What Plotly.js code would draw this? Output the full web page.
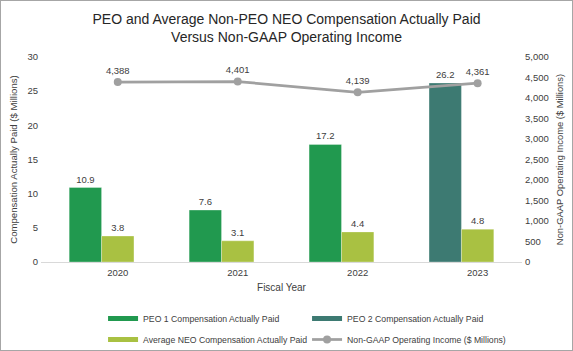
<!DOCTYPE html>
<html>
<head>
<meta charset="utf-8">
<script src="https://cdn.plot.ly/plotly-3.0.1.min.js"></script>
<style>
  html, body { margin: 0; padding: 0; background: #fff; }
  #wrap { position: relative; width: 573px; height: 351px; }
  #chart { width: 573px; height: 351px; }
  #frame { position: absolute; left: 0; top: 0; width: 571px; height: 349px; border: 1px solid #a6a6a6; pointer-events: none; }
</style>
</head>
<body>
<div id="wrap"><div id="chart"></div><div id="frame"></div></div>
<script>
const years = ['2020', '2021', '2022', '2023'];
const peo1Years = ['2020', '2021', '2022'];
const peo1Values = [10.9, 7.6, 17.2];
const peo2Years = ['2023'];
const peo2Values = [26.2];
const avgNeoValues = [3.8, 3.1, 4.4, 4.8];
const opIncomeValues = [4388, 4401, 4139, 4361];

const cPeo1 = '#21994f';
const cPeo2 = '#3d7a72';
const cAvg = '#a9c142';
const cLine = '#a0a0a0';
const txt = '#404040';
const fontFam = 'Liberation Sans, Arial, sans-serif';

const barW = 0.27;
const barLine = { color: 'rgba(255,255,255,0.6)', width: 0.5 };
const lblFont = { size: 9.5, color: txt };

const traces = [
  {
    type: 'bar', name: 'PEO 1 Compensation Actually Paid',
    x: peo1Years, y: peo1Values, width: barW, offset: -0.405,
    marker: { color: cPeo1, line: barLine },
    text: peo1Values.map(v => v.toFixed(1)), textposition: 'outside',
    textfont: lblFont, cliponaxis: false, showlegend: false
  },
  {
    type: 'bar', name: 'PEO 2 Compensation Actually Paid',
    x: peo2Years, y: peo2Values, width: barW, offset: -0.405,
    marker: { color: cPeo2, line: barLine },
    text: peo2Values.map(v => v.toFixed(1)), textposition: 'outside',
    textfont: lblFont, cliponaxis: false, showlegend: false
  },
  {
    type: 'bar', name: 'Average NEO Compensation Actually Paid',
    x: years, y: avgNeoValues, width: barW, offset: -0.135,
    marker: { color: cAvg, line: barLine },
    text: avgNeoValues.map(v => v.toFixed(1)), textposition: 'outside',
    textfont: lblFont, cliponaxis: false, showlegend: false
  },
  {
    type: 'scatter', mode: 'lines+markers+text', name: 'Non-GAAP Operating Income ($ Millions)',
    x: years, y: opIncomeValues, yaxis: 'y2',
    line: { color: cLine, width: 2.75 }, marker: { color: cLine, size: 8 },
    text: opIncomeValues.map(v => v.toLocaleString('en-US')), textposition: 'top center',
    textfont: lblFont, cliponaxis: false, showlegend: false
  },
  // legend entries
  { type: 'scatter', mode: 'lines', name: 'PEO 1 Compensation Actually Paid', x: [null], y: [null], line: { color: cPeo1, width: 5 }, hoverinfo: 'skip', legend: 'legend' },
  { type: 'scatter', mode: 'lines', name: 'PEO 2 Compensation Actually Paid', x: [null], y: [null], line: { color: cPeo2, width: 5 }, hoverinfo: 'skip', legend: 'legend' },
  { type: 'scatter', mode: 'lines', name: 'Average NEO Compensation Actually Paid', x: [null], y: [null], line: { color: cAvg, width: 5 }, hoverinfo: 'skip', legend: 'legend2' },
  { type: 'scatter', mode: 'lines+markers', name: 'Non-GAAP Operating Income ($ Millions)', x: [null], y: [null], line: { color: cLine, width: 2.75 }, marker: { color: cLine, size: 8 }, hoverinfo: 'skip', legend: 'legend2' }
];

const legendBase = {
  orientation: 'h', x: 0.129, xref: 'paper', xanchor: 'left', yref: 'container', yanchor: 'top',
  entrywidth: 159, entrywidthmode: 'pixels',
  font: { size: 8.7, color: txt }, traceorder: 'normal', bgcolor: 'rgba(0,0,0,0)'
};

const layout = {
  width: 573, height: 351,
  margin: { l: 41, r: 51, t: 57, b: 89 },
  paper_bgcolor: '#ffffff', plot_bgcolor: '#ffffff',
  font: { family: fontFam, color: txt, size: 10 },
  barmode: 'overlay',
  title: {
    text: 'PEO and Average Non-PEO NEO Compensation Actually Paid<br>Versus Non-GAAP Operating Income',
    x: 0.5, xanchor: 'center', y: 0.932, yanchor: 'top',
    font: { size: 14, color: '#262626', family: fontFam }
  },
  xaxis: {
    type: 'category', range: [-0.64, 3.37],
    showgrid: false, zeroline: false, showline: true, linecolor: '#d9d9d9', linewidth: 1,
    ticks: '', tickfont: { size: 9.5, color: txt }, ticklabelstandoff: 2,
    title: { text: 'Fiscal Year', font: { size: 10, color: txt }, standoff: 6 },
    fixedrange: true
  },
  yaxis: {
    range: [0, 30], dtick: 5, showgrid: false, zeroline: false, showline: false,
    ticks: '', tickfont: { size: 9.5, color: txt }, ticklabelstandoff: 2,
    title: { text: 'Compensation Actually Paid ($ Millions)', font: { size: 9.6, color: txt }, standoff: 8 },
    fixedrange: true
  },
  yaxis2: {
    overlaying: 'y', side: 'right', range: [0, 5000], dtick: 500,
    tickformat: ',d', showgrid: false, zeroline: false, showline: false,
    ticks: '', tickfont: { size: 9.5, color: txt }, ticklabelstandoff: 2,
    title: { text: 'Non-GAAP Operating Income ($ Millions)', font: { size: 9.4, color: txt }, standoff: 8 },
    fixedrange: true
  },
  legend: Object.assign({}, legendBase, { y: 1 - 304 / 351 }),
  legend2: Object.assign({}, legendBase, { y: 1 - 325 / 351 }),
  showlegend: true
};

Plotly.newPlot('chart', traces, layout, { displayModeBar: false, staticPlot: true });
</script>
</body>
</html>
